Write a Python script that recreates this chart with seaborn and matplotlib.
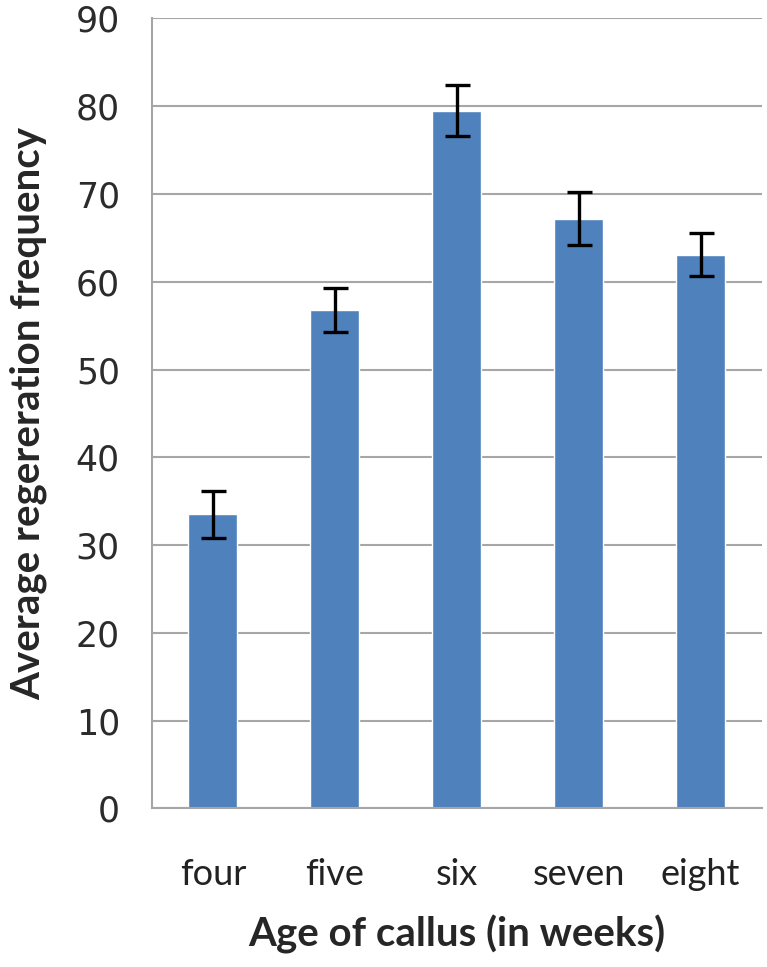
import numpy as np
import pandas as pd
import matplotlib
matplotlib.use("Agg")
import matplotlib.pyplot as plt
import seaborn as sns

# values
ages = ["four", "five", "six", "seven", "eight"]
mean_freq = [33.5, 56.8, 79.5, 67.2, 63.1]
err_freq = [2.7, 2.5, 2.9, 3.0, 2.5]

df = pd.DataFrame({"Age": ages, "Frequency": mean_freq})

sns.set_style("white")

fig = plt.figure(figsize=(7.67, 9.67), dpi=100)
ax = fig.add_axes([0.198, 0.164, 0.795, 0.817])

sns.barplot(data=df, x="Age", y="Frequency", color="#4F81BD", saturation=1,
            width=0.4, errorbar=None, ax=ax, zorder=2)

# error bars
ax.errorbar(np.arange(len(ages)), mean_freq, yerr=err_freq, fmt="none",
            ecolor="black", elinewidth=2.4, capsize=9, capthick=2.4, zorder=3)

ax.set_ylim(0, 90)
ax.set_xlim(-0.5, len(ages) - 0.5)
ax.set_yticks(range(0, 91, 10))
ax.yaxis.grid(True, color="#A6A6A6", linewidth=1.5, zorder=0)
ax.set_axisbelow(True)

# spines like the spreadsheet default
for side in ["top", "right"]:
    ax.spines[side].set_visible(False)
for side in ["left", "bottom"]:
    ax.spines[side].set_color("#A6A6A6")
    ax.spines[side].set_linewidth(1.5)

# x ticks between categories, labels at centers
ax.set_xticks(np.arange(-0.5, len(ages)), minor=True)
ax.tick_params(axis="x", which="minor", length=11, width=1.5, color="#A6A6A6")
ax.tick_params(axis="x", which="major", length=0, pad=36, labelsize=26)
ax.tick_params(axis="y", length=11, width=1.5, color="#A6A6A6", pad=12,
               labelsize=25, labelcolor="#2B2B2B")

for lab in ax.get_xticklabels():
    lab.set_family("Lato")
    lab.set_color("#222222")
for lab in ax.get_yticklabels():
    lab.set_family("DejaVu Sans")

ax.set_xlabel("Age of callus (in weeks)", fontsize=29, fontweight="bold",
              family=["Lato", "DejaVu Sans"])
ax.set_ylabel("Average regereration frequency", fontsize=29, fontweight="bold",
              family=["Lato", "DejaVu Sans"])
ax.xaxis.set_label_coords(0.5, -0.135)
ax.yaxis.set_label_coords(-0.172, 0.5)

fig.savefig("out.png", dpi=100)
